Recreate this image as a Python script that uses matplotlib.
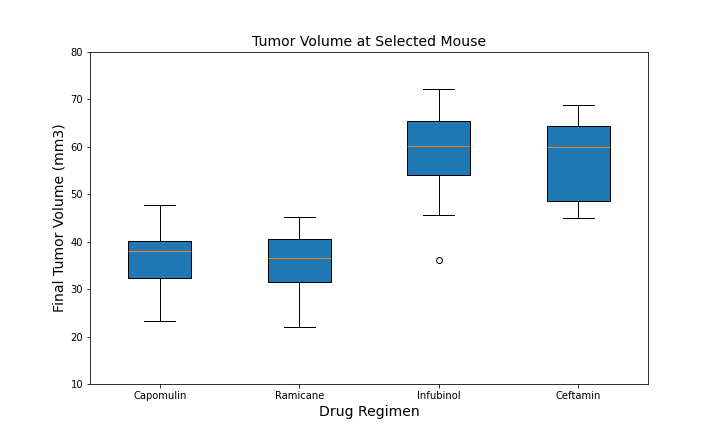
import matplotlib.pyplot as plt

regimens = ["Capomulin", "Ramicane", "Infubinol", "Ceftamin"]
whislo = [23.3, 22.0, 45.7, 45.0]
q1 = [32.4, 31.6, 54.0, 48.7]
med = [38.1, 36.6, 60.2, 59.9]
q3 = [40.2, 40.7, 65.5, 64.3]
whishi = [47.7, 45.2, 72.2, 68.9]
fliers = [[], [], [36.3], []]

stats = []
for i, name in enumerate(regimens):
    stats.append({"label": name, "whislo": whislo[i], "q1": q1[i], "med": med[i],
                  "q3": q3[i], "whishi": whishi[i], "fliers": fliers[i]})

fig, ax = plt.subplots(figsize=(10, 6), dpi=72)
ax.bxp(stats, patch_artist=True, boxprops=dict(facecolor="#1f77b4"))
ax.set_ylim(10, 80)
ax.set_title("Tumor Volume at Selected Mouse", fontsize=14)
ax.set_xlabel("Drug Regimen", fontsize=14)
ax.set_ylabel("Final Tumor Volume (mm3)", fontsize=14)
fig.savefig("out.png")
